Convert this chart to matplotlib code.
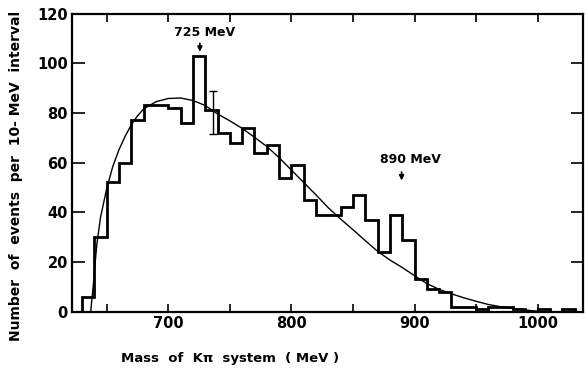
import numpy as np
import matplotlib.pyplot as plt

# ============================================================
# Data
# ============================================================
# 10-MeV bins from 630 to 1030 MeV
bin_edges = np.arange(630, 1031, 10)
counts = [6, 30, 52, 60, 77, 83, 83, 82, 76, 103,
          81, 72, 68, 74, 64, 67, 54, 59, 45, 39,
          39, 42, 47, 37, 24, 39, 29, 13, 9, 8,
          2, 2, 1, 2, 2, 1, 0, 1, 0, 1]

# smooth phase-space curve
curve_mass = [637, 639, 640.5, 642, 645, 650, 655, 660, 665, 670, 675, 680,
              690, 700, 710, 720, 730, 740, 750, 760, 770, 780, 790, 800,
              810, 820, 830, 840, 850, 860, 870, 880, 890, 900, 910, 920,
              930, 940, 950, 960, 970, 980, 990, 1000]
curve_fit = [0, 10, 19, 27, 38, 49.5, 58.5, 65.2, 70.6, 75.2, 78.8, 81.6,
             84.5, 85.8, 86, 85, 83, 79.6, 76.8, 73.8, 70.2, 66.5, 62, 57,
             52, 47, 41.8, 37.3, 33, 28.6, 24.3, 20.8, 17.8, 14.5, 11.3, 9,
             7.2, 5.6, 4.2, 2.9, 2.0, 1.3, 0.7, 0.2]

# single error bar
err_mass = [736]
err_value = [80.25]
err_size = [8.75]

# peak annotations
peak_labels = ["725 MeV", "890 MeV"]
peak_mass = [725.7, 889.5]
peak_value = [104.6, 52.8]

x_ticks = [700, 800, 900, 1000]
x_minor = [650, 750, 850, 950]
y_ticks = [0, 20, 40, 60, 80, 100, 120]


def main():
    plt.rcParams["font.family"] = ["DejaVu Sans"]
    fig = plt.figure(figsize=(5.85, 3.73), dpi=100)
    ax = fig.add_axes([0.123, 0.1643, 0.874, 0.7995])

    ax.stairs(counts, bin_edges, color="black", linewidth=2.0, baseline=0)
    ax.plot(curve_mass, curve_fit, color="black", linewidth=1.0)
    ax.errorbar(err_mass, err_value, yerr=err_size, fmt="none", ecolor="black",
                elinewidth=1.0, capsize=3.2, capthick=1.0)

    # peak markers: short arrow with the label above it
    label_off = [(3.5, 7.8), (7.5, 8.6)]
    for lab, m, v, (dx, dy) in zip(peak_labels, peak_mass, peak_value, label_off):
        ax.annotate("", xy=(m, v), xytext=(m, v + 3.4),
                    arrowprops=dict(arrowstyle="-|>", color="black", lw=1.2,
                                    mutation_scale=7, shrinkA=0, shrinkB=0))
        ax.text(m + dx, v + dy, lab, ha="center", va="center", fontsize=9,
                fontweight="semibold")

    ax.set_xlim(621.8, 1037)
    ax.set_ylim(0, 120)
    ax.set_xticks(x_ticks)
    ax.set_xticks(x_minor, minor=True)
    ax.set_yticks(y_ticks)
    ax.set_yticklabels([str(t) for t in y_ticks])

    ax.tick_params(axis="both", which="both", direction="in", width=1.2,
                   top=True, right=True, labelsize=10.5)
    ax.tick_params(axis="x", which="both", length=6, pad=3)
    ax.tick_params(axis="y", which="major", length=9, pad=3)
    for lbl in ax.get_xticklabels() + ax.get_yticklabels():
        lbl.set_fontweight("bold")

    for s in ax.spines.values():
        s.set_linewidth(1.6)

    ax.set_xlabel("Mass  of  K\u03c0  system  ( MeV )", fontsize=9.5,
                  fontweight="bold", labelpad=15, x=0.31)
    ax.set_ylabel("Number  of  events  per  10- MeV  interval", fontsize=10,
                  fontweight="bold", labelpad=10, y=0.455)

    fig.savefig("out.png", dpi=100)
    plt.close(fig)


if __name__ == "__main__":
    main()
